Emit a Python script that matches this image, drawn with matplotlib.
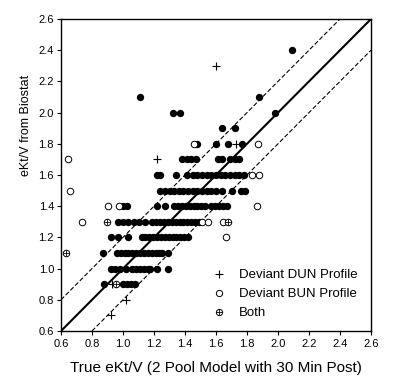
import matplotlib
matplotlib.use("Agg")
import matplotlib.pyplot as plt
from matplotlib.lines import Line2D

plt.rcParams['font.family'] = ['Liberation Sans', 'DejaVu Sans']

# filled points: one list of true eKt/V values per Biostat level
row_levels = [2.4, 2.1, 2.0, 1.9, 1.8, 1.7, 1.6, 1.5, 1.4, 1.3, 1.2, 1.1, 1.0, 0.9]
row_x = [
    [2.09],
    [1.11, 1.88],
    [1.32, 1.37, 1.98],
    [1.64, 1.72],
    [1.48, 1.60, 1.68, 1.77],
    [1.38, 1.41, 1.44, 1.47, 1.61, 1.64, 1.69, 1.72, 1.75],
    [1.22, 1.24, 1.34, 1.41, 1.45, 1.48, 1.51, 1.54, 1.57, 1.60, 1.63, 1.66,
     1.69, 1.72, 1.75, 1.78],
    [1.24, 1.27, 1.30, 1.33, 1.36, 1.39, 1.42, 1.45, 1.48, 1.51, 1.54, 1.57,
     1.60, 1.64, 1.70, 1.76, 1.79],
    [1.00, 1.025, 1.22, 1.27, 1.33, 1.355, 1.38, 1.405, 1.43, 1.455, 1.48,
     1.505, 1.53, 1.57, 1.595, 1.62, 1.645, 1.67],
    [0.97, 1.00, 1.03, 1.07, 1.10, 1.14, 1.19, 1.215, 1.24, 1.265, 1.29,
     1.315, 1.34, 1.365, 1.39, 1.415, 1.44, 1.465, 1.49],
    [0.92, 0.97, 1.03, 1.12, 1.145, 1.17, 1.195, 1.22, 1.245, 1.27, 1.295,
     1.32, 1.345, 1.37, 1.395, 1.42],
    [0.87, 0.96, 0.985, 1.01, 1.035, 1.06, 1.085, 1.11, 1.135, 1.16, 1.185,
     1.21, 1.235, 1.25, 1.29],
    [0.92, 0.95, 0.98, 1.02, 1.06, 1.085, 1.11, 1.135, 1.16, 1.175, 1.22, 1.29],
    [0.875, 1.00, 1.025, 1.05, 1.075],
]

# deviant DUN profile (+)
dun_x = [1.60, 1.22, 1.727, 0.93, 1.02, 0.925]
dun_y = [2.3, 1.7, 1.8, 0.9, 0.8, 0.7]

# deviant BUN profile (open circles)
bun_x = [1.46, 1.873, 0.645, 1.83, 1.88, 0.658, 0.905, 0.975, 1.867, 0.733,
         1.51, 1.55, 1.647, 1.665]
bun_y = [1.8, 1.8, 1.7, 1.6, 1.6, 1.5, 1.4, 1.4, 1.4, 1.3, 1.3, 1.3, 1.3, 1.2]

# both deviant
both_x = [0.895, 1.68, 0.632, 0.955]
both_y = [1.3, 1.3, 1.1, 0.9]

ticks = [0.6, 0.8, 1.0, 1.2, 1.4, 1.6, 1.8, 2.0, 2.2, 2.4, 2.6]
lo, hi = 0.6, 2.6
band = 0.2

fig = plt.figure(figsize=(3.94, 3.89), dpi=100)
ax = fig.add_axes([61 / 394, 58 / 389, 310 / 394, 312 / 389])

# identity line and +/- 0.2 band
ax.plot([lo, hi], [lo, hi], color='black', lw=1.5)
ax.plot([lo, hi - band], [lo + band, hi], color='black', lw=0.8, ls=(0, (4, 2)))
ax.plot([lo + band, hi], [lo, hi - band], color='black', lw=0.8, ls=(0, (4, 2)))

fx, fy = [], []
for lev, xs in zip(row_levels, row_x):
    fx += xs
    fy += [lev] * len(xs)
ax.scatter(fx, fy, s=28, color='black', linewidths=0, zorder=3)

ax.scatter(dun_x, dun_y, s=30, marker='+', color='black', linewidths=0.8, zorder=3)
ax.scatter(bun_x, bun_y, s=22, marker='o', facecolors='white', edgecolors='black',
           linewidths=0.7, zorder=3)
ax.scatter(both_x, both_y, s=22, marker='o', facecolors='white', edgecolors='black',
           linewidths=0.7, zorder=3)
ax.scatter(both_x, both_y, s=20, marker='+', color='black', linewidths=0.6, zorder=4)

ax.set_xlim(lo, hi)
ax.set_ylim(lo, hi)
ax.set_xticks(ticks)
ax.set_yticks(ticks)
ax.set_xticklabels([f'{t:.1f}' for t in ticks], fontsize=8)
ax.set_yticklabels([f'{t:.1f}' for t in ticks], fontsize=8,
                   family=['Liberation Sans Narrow', 'Liberation Sans'])
ax.tick_params(direction='out', length=3, width=0.8, pad=2)
ax.tick_params(axis='x', pad=3)
for s in ax.spines.values():
    s.set_linewidth(1.0)

ax.set_xlabel('True eKt/V (2 Pool Model with 30 Min Post)', fontsize=11)
ax.xaxis.set_label_coords(0.5, -0.095)
ax.set_ylabel('eKt/V from Biostat', fontsize=9,
              family=['Liberation Sans Narrow', 'Liberation Sans'])
ax.yaxis.set_label_coords(-0.094, 0.66)

h_dun = Line2D([], [], ls='none', marker='+', color='black', ms=6, mew=0.8)
h_bun = Line2D([], [], ls='none', marker='o', mfc='white', mec='black', ms=4.5, mew=0.7)
h_plus = Line2D([], [], ls='none', marker='+', color='black', ms=4.5, mew=0.6)
ax.legend([h_dun, h_bun, (h_bun, h_plus)],
          ['Deviant DUN Profile', 'Deviant BUN Profile', 'Both'],
          loc='lower left', bbox_to_anchor=(0.445, 0.0), frameon=False,
          fontsize=9.5, handlelength=1.2, handletextpad=0.9, labelspacing=0.5)

fig.savefig('out.png', dpi=100)
